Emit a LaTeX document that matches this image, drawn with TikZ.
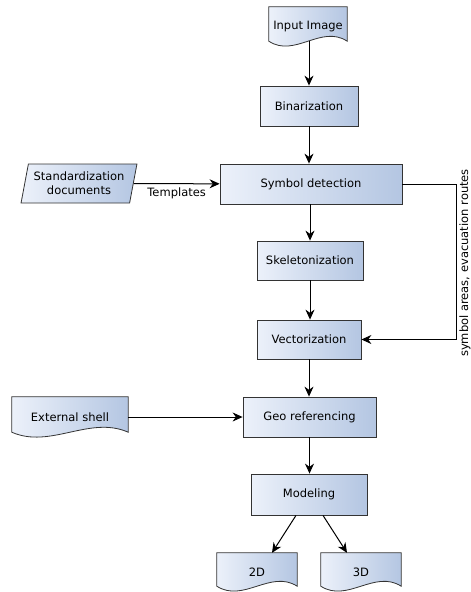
\documentclass[tikz,border=0pt]{standalone}
\usepackage{fontspec}
\setmainfont{DejaVu Sans}
\usepackage{tikz}
\usetikzlibrary{calc,shapes.geometric,arrows.meta,backgrounds}

\definecolor{boxleft}{RGB}{236,241,250}
\definecolor{boxright}{RGB}{180,198,226}
\definecolor{boxline}{RGB}{51,51,51}

\tikzset{
  procbox/.style={draw=boxline, line width=0.8pt, left color=boxleft, right color=boxright, inner sep=0pt},
  docbox/.style={inner sep=0pt},
  databox/.style={trapezium, trapezium left angle=74, trapezium right angle=106, trapezium stretches=true,
    draw=boxline, line width=0.8pt, left color=boxleft, right color=boxright, inner sep=0pt, align=center},
  flow/.style={line width=1pt, -{Stealth[length=10pt,width=9pt]}},
}

% document shape: straight top, wavy bottom
\newcommand{\docoutline}[1]{%
  \shadedraw[draw=boxline, line width=0.8pt, left color=boxleft, right color=boxright]
    (#1.north west) -- (#1.north east) -- ([yshift=5pt]#1.south east)
    .. controls ($(#1.south east)!0.33!(#1.south west)+(0,22pt)$) and ($(#1.south east)!0.67!(#1.south west)+(0,-12pt)$) .. ([yshift=5pt]#1.south west) -- cycle;}

\begin{document}
\begin{tikzpicture}[x=1pt,y=-1pt,font=\fontsize{11.5}{14}\selectfont]
    \useasboundingbox (0,0) rectangle (471,592);

    % main column
    \node[docbox, minimum width=78pt, minimum height=39pt] (inimg) at (308,26.5) {Input Image};
    \node[procbox, minimum width=98pt, minimum height=40pt] (bin) at (309,106) {Binarization};
    \node[procbox, minimum width=182pt, minimum height=40pt] (symdet) at (311,184) {Symbol detection};
    \node[procbox, minimum width=106pt, minimum height=39pt] (skel) at (310,260.5) {Skeletonization};
    \node[procbox, minimum width=104pt, minimum height=39pt] (vect) at (309,339.5) {Vectorization};
    \node[procbox, minimum width=133pt, minimum height=40pt] (geo) at (309.5,417) {Geo referencing};
    \node[procbox, minimum width=116pt, minimum height=41pt] (model) at (309,494.5) {Modeling};
    \node[docbox, minimum width=80pt, minimum height=38pt] (out2d) at (257,572) {2D};
    \node[docbox, minimum width=80pt, minimum height=38pt] (out3d) at (361,572) {3D};

    % side inputs
    \node[databox, minimum width=116pt, minimum height=39pt] (stddoc) at (79,183.5) {Standardization\\documents};
    \node[docbox, minimum width=116pt, minimum height=40pt] (ext) at (70,417) {External shell};
    \node[rotate=90] (lblroute) at (465,263) {symbol areas, evacuation routes};

    \begin{pgfonlayer}{background}
        \foreach \d in {inimg,ext,out2d,out3d} {\docoutline{\d}}
    \end{pgfonlayer}

    \draw[flow] ([yshift=5pt]bin.north |- inimg.south) -- (bin.north);
    \draw[flow] (bin.south) -- (bin.south |- symdet.north);
    \draw[flow] (stddoc) -- (symdet) node[midway, below] {Templates};
    \draw[flow] (skel.north |- symdet.south) -- (skel.north);
    \draw[flow] (skel.south) -- (skel.south |- vect.north);
    \draw[flow] (symdet.east) -- ++(54,0) |- (vect.east);
    \draw[flow] (vect.south) -- (vect.south |- geo.north);
    \draw[flow] (ext) -- (geo);
    \draw[flow] (geo.south) -- (geo.south |- model.north);
    \draw[flow] ([xshift=-13pt]model.south) -- ([xshift=15pt]out2d.north);
    \draw[flow] ([xshift=14pt]model.south) -- ([xshift=-14pt]out3d.north);
\end{tikzpicture}
\end{document}
